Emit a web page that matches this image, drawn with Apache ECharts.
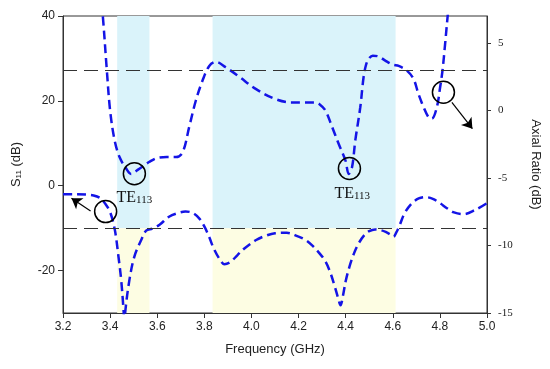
<!DOCTYPE html>
<html><head><meta charset="utf-8">
<script src="https://cdn.jsdelivr.net/npm/echarts@6/dist/echarts.min.js"></script>
<style>html,body{margin:0;padding:0;background:#fff}#c{width:550px;height:369px}</style>
</head><body><div id="c"></div>
<script>
var xTicks = [3.2,3.4,3.6,3.8,4.0,4.2,4.4,4.6,4.8,5.0];
var leftTicks = [-20,0,20,40];
var rightTicks = [-15,-10,-5,0,5];

var s11Freq = [3.20,3.25,3.30,3.33,3.36,3.38,3.40,3.42,3.435,3.447,3.457,3.461,3.465,3.482,3.503,3.532,3.553,3.58,3.61,3.65,3.69,3.72,3.75,3.78,3.80,3.82,3.84,3.865,3.885,3.91,3.94,3.97,4.02,4.06,4.10,4.15,4.20,4.23,4.26,4.29,4.315,4.335,4.355,4.368,4.378,4.39,4.40,4.415,4.435,4.455,4.48,4.50,4.525,4.55,4.57,4.59,4.603,4.615,4.63,4.65,4.68,4.71,4.74,4.77,4.80,4.83,4.86,4.90,4.95,5.00];
var s11Val = [-2.0,-2.0,-2.1,-2.3,-3.0,-4.3,-6.2,-10.4,-16.5,-22.2,-29.3,-33,-29.3,-22.2,-16.7,-12.8,-10.6,-10.1,-9.2,-7.3,-6.4,-6.1,-6.4,-7.8,-9.6,-12.0,-14.8,-17.3,-18.5,-18.0,-16.4,-14.8,-12.8,-11.8,-11.2,-11.1,-12.0,-12.8,-14.2,-16.0,-17.9,-20.5,-24.0,-26.5,-28.2,-25.5,-22.5,-19.3,-16.0,-13.6,-11.6,-10.7,-10.3,-10.5,-10.9,-11.5,-12.0,-11.0,-9.2,-6.5,-4.2,-3.0,-2.7,-3.1,-4.1,-5.3,-6.3,-6.7,-5.7,-4.1];

var arFreq = [3.362,3.369,3.386,3.40,3.419,3.44,3.468,3.489,3.517,3.567,3.602,3.64,3.68,3.708,3.736,3.764,3.792,3.821,3.849,3.891,3.948,4.018,4.10,4.17,4.22,4.27,4.29,4.314,4.342,4.371,4.399,4.413,4.427,4.441,4.462,4.476,4.486,4.497,4.515,4.54,4.568,4.60,4.625,4.66,4.688,4.709,4.731,4.752,4.766,4.787,4.801,4.811,4.822,4.833,4.84];
var arVal = [8.0,7.0,3.0,0.0,-2.2,-3.45,-4.3,-4.7,-4.4,-3.8,-3.5,-3.45,-3.45,-3.1,-1.2,0.74,2.2,3.3,3.6,3.2,2.5,1.6,0.86,0.6,0.6,0.6,0.45,0.0,-1.2,-2.5,-3.7,-4.7,-4.2,-2.2,0.24,2.46,3.35,3.8,4.06,4.0,3.7,3.4,3.3,2.95,2.34,1.23,0.24,-0.5,-0.6,0.24,1.72,2.95,4.9,7.0,8.2];

var bands = [[3.43,3.567],[3.835,4.612]];
var s11Ref = -10;
var arRef = 3;

function zip(a,b){return a.map(function(v,i){return [v,b[i]];});}
var sans = 'Liberation Sans, Arial, sans-serif';
var serif = 'Liberation Serif, Times New Roman, serif';
var blue = '#1414e6';

var areaData = [];
bands.forEach(function(b){
  areaData.push([{xAxis:b[0],yAxis:s11Ref,itemStyle:{color:'#daf3fa'}},{xAxis:b[1],yAxis:40}]);
  areaData.push([{xAxis:b[0],yAxis:-30,itemStyle:{color:'#fdfde3'}},{xAxis:b[1],yAxis:s11Ref}]);
});

var circle = {symbol:'circle',symbolSize:22,itemStyle:{color:'rgba(0,0,0,0)',borderColor:'#000',borderWidth:1.5},label:{show:false}};
function circ(c){return Object.assign({coord:c},circle);}
function teLabel(c){return {coord:c,symbol:'circle',symbolSize:1,itemStyle:{color:'rgba(0,0,0,0)'},
  label:{show:true,position:'inside',formatter:'{a|TE}{b|113}',rich:{a:{fontFamily:serif,fontSize:16,color:'#111',verticalAlign:'bottom'},b:{fontFamily:serif,fontSize:11,color:'#111',verticalAlign:'bottom'}}}};}
var arrowLine = {symbol:['none','arrow'],symbolSize:10,lineStyle:{color:'#000',type:'solid',width:1.2},itemStyle:{color:'#000'},label:{show:false},silent:true,animation:false};

var option = {
  animation:false,
  grid:{left:63,right:61,top:16,bottom:56,show:true,borderColor:'#333',borderWidth:1},
  xAxis:{type:'value',min:3.2,max:5.0,interval:0.2,
    name:'Frequency (GHz)',nameLocation:'middle',nameGap:30,nameTextStyle:{fontFamily:sans,fontSize:13,color:'#222'},
    axisLine:{onZero:false,lineStyle:{color:'#333'}},axisTick:{show:true,length:5,lineStyle:{color:'#333'},customValues:xTicks},
    axisLabel:{fontFamily:sans,fontSize:12,color:'#222',margin:8,customValues:xTicks,formatter:function(v){return v.toFixed(1);}},
    splitLine:{show:false}},
  yAxis:[
    {type:'value',min:-30,max:40,interval:10,position:'left',
      name:'S{sub|11} (dB)',nameLocation:'middle',nameGap:40,nameRotate:90,
      nameTextStyle:{fontFamily:sans,fontSize:13,color:'#222',rich:{sub:{fontFamily:sans,fontSize:8,color:'#222',verticalAlign:'bottom'}}},
      axisLine:{show:true,onZero:false,lineStyle:{color:'#333'}},axisTick:{show:true,length:5,lineStyle:{color:'#333'},customValues:leftTicks},
      axisLabel:{fontFamily:sans,fontSize:12,color:'#222',margin:8,customValues:leftTicks},splitLine:{show:false}},
    {type:'value',min:-15,max:7,interval:5,position:'right',
      name:'Axial Ratio (dB)',nameLocation:'middle',nameGap:42,nameRotate:-90,
      nameTextStyle:{fontFamily:sans,fontSize:13,color:'#222'},
      axisLine:{show:true,onZero:false,lineStyle:{color:'#333'}},axisTick:{show:true,length:4,lineStyle:{color:'#333'},customValues:rightTicks},
      axisLabel:{fontFamily:serif,fontSize:11,color:'#222',margin:11,customValues:rightTicks},splitLine:{show:false}}
  ],
  series:[
    {type:'line',name:'bands',yAxisIndex:0,data:[],silent:true,
      markArea:{silent:true,data:areaData},
      markLine:{symbol:'none',silent:true,label:{show:false},lineStyle:{color:'#333',type:[14,7],width:1.2},data:[{yAxis:s11Ref}]}},
    {type:'line',name:'arref',yAxisIndex:1,data:[],silent:true,
      markLine:{symbol:'none',silent:true,label:{show:false},lineStyle:{color:'#333',type:[14,7],width:1.2},data:[{yAxis:arRef}]}},
    {type:'line',name:'S11',yAxisIndex:0,data:zip(s11Freq,s11Val),smooth:0.35,showSymbol:false,clip:true,
      lineStyle:{color:blue,width:2.5,type:[9,5]},
      markPoint:{silent:true,data:[circ([3.381,-6.1]),teLabel([3.503,-2.9]),teLabel([4.428,-1.8])]},
      markLine:Object.assign({data:[[{coord:[3.317,-5.95]},{coord:[3.236,-2.96]}]]},arrowLine)},
    {type:'line',name:'AR',yAxisIndex:1,data:zip(arFreq,arVal),smooth:0.35,showSymbol:false,clip:true,
      lineStyle:{color:blue,width:2.5,type:[9,5]},
      markPoint:{silent:true,data:[circ([3.503,-4.68]),circ([4.416,-4.3]),circ([4.815,1.35])]},
      markLine:Object.assign({data:[[{coord:[4.851,0.6]},{coord:[4.938,-1.35]}]]},arrowLine)}
  ]
};
var chart = echarts.init(document.getElementById('c'),null,{renderer:'canvas'});
chart.setOption(option);
</script></body></html>
